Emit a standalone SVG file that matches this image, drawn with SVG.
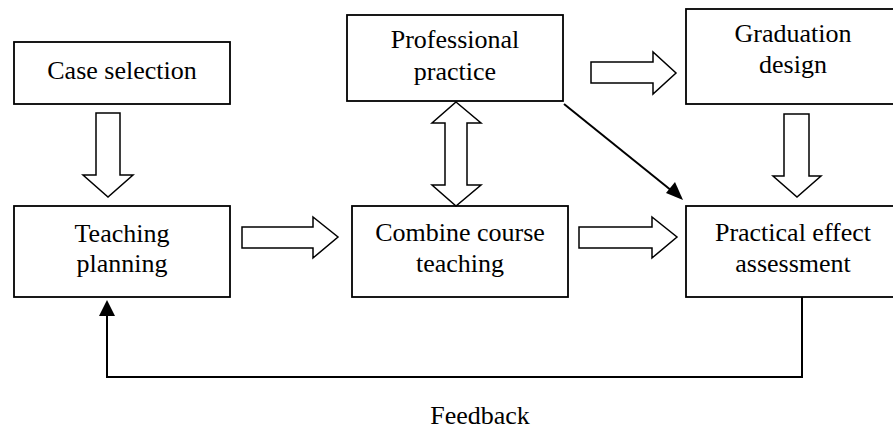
<svg xmlns="http://www.w3.org/2000/svg" width="893" height="431" viewBox="0 0 893 431">
<style>
.box{fill:#fff;stroke:#000;stroke-width:1.8}
.hol{fill:#fff;stroke:#000;stroke-width:1.5;stroke-linejoin:miter}
.ln{fill:none;stroke:#000;stroke-width:2}
.t{font-family:'Liberation Serif','DejaVu Serif',serif;font-size:26px;fill:#000;text-anchor:middle}
</style>
<rect width="893" height="431" fill="#fff"/>
<g id="case-selection"><rect class="box" x="14" y="42" width="216" height="62"/><text class="t" x="122" y="79">Case selection</text></g>
<g id="teaching-planning"><rect class="box" x="14" y="206" width="216" height="91"/><text class="t" x="122" y="242">Teaching</text><text class="t" x="122" y="272">planning</text></g>
<g id="professional-practice"><rect class="box" x="347" y="15" width="216" height="86"/><text class="t" x="455" y="48">Professional</text><text class="t" x="455" y="80">practice</text></g>
<g id="graduation-design"><rect class="box" x="686" y="9" width="212" height="95"/><text class="t" x="793" y="42">Graduation</text><text class="t" x="793" y="73">design</text></g>
<g id="combine-course-teaching"><rect class="box" x="352" y="206" width="216" height="91"/><text class="t" x="460" y="241">Combine course</text><text class="t" x="460" y="272">teaching</text></g>
<g id="practical-effect-assessment"><rect class="box" x="686" y="206" width="212" height="91"/><text class="t" x="793" y="241">Practical effect</text><text class="t" x="793" y="272">assessment</text></g>
<g id="connectors">
<polygon class="hol" points="96,113 120,113 120,175 133,175 108,197 83,175 96,175"/>
<polygon class="hol" points="784,114 809,114 809,176 821,176 797,197 773,176 784,176"/>
<polygon class="hol" points="591,62 653,62 653,52 676,73 653,94 653,83 591,83"/>
<polygon class="hol" points="242,227 313,227 313,217 338,237 313,258 313,248 242,248"/>
<polygon class="hol" points="579,227 652,227 652,217 677,237 652,258 652,248 579,248"/>
<polygon class="hol" points="456,102 481,123 467,123 467,185 481,185 456,206 432,185 445,185 445,123 432,123"/>
<line class="ln" x1="564" y1="104" x2="672" y2="191"/>
<polygon points="683,200 666,193 675,182" fill="#000"/>
<polyline class="ln" points="802,297 802,377 107,377 107,314"/>
<polygon points="107,300 99,316 115,316" fill="#000"/>
</g>
<text class="t" x="480" y="424">Feedback</text>
</svg>
